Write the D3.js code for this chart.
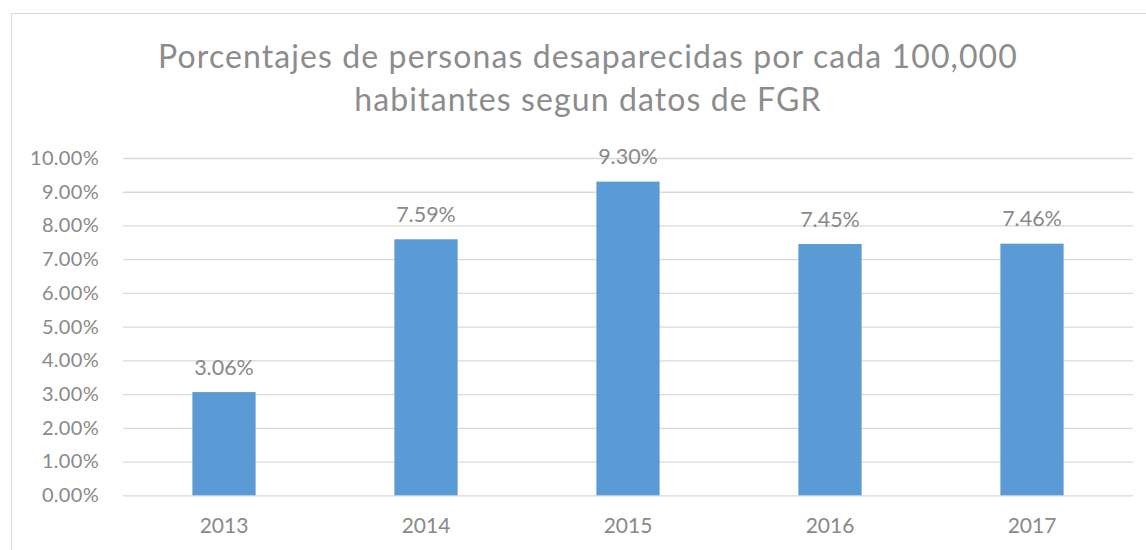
<!DOCTYPE html>
<html>
<head>
<meta charset="utf-8">
<script src="https://cdn.jsdelivr.net/npm/d3@7"></script>
<style>
html,body{margin:0;padding:0;background:#fff;}
svg{display:block;font-family:Lato,"Open Sans",sans-serif;}
</style>
</head>
<body>
<svg id="chart" width="1146" height="550"></svg>
<script>
const categories = ["2013", "2014", "2015", "2016", "2017"];
const values = [3.06, 7.59, 9.30, 7.45, 7.46];
const yTicks = [0, 1, 2, 3, 4, 5, 6, 7, 8, 9, 10];
const titleLines = ["Porcentajes de personas desaparecidas por cada 100,000", "habitantes segun datos de FGR"];

const svg = d3.select("#chart");
const textColor = "#898989";
const gridColor = "#d9d9d9";

// chart border
svg.append("rect")
  .attr("x", 11.5).attr("y", 13.5)
  .attr("width", 1146).attr("height", 560)
  .attr("fill", "none").attr("stroke", gridColor).attr("stroke-width", 1);

const plotLeft = 123, plotRight = 1133, plotTop = 158, plotBottom = 495.3;

const x = d3.scaleBand().domain(categories).range([plotLeft, plotRight]).padding(0);
const y = d3.scaleLinear().domain([0, 10]).range([plotBottom, plotTop]);

// title
svg.append("g").selectAll("text").data(titleLines).join("text")
  .attr("x", 588).attr("y", (d, i) => 68 + i * 43)
  .attr("text-anchor", "middle")
  .attr("font-size", 32)
  .attr("letter-spacing", 1.1)
  .attr("fill", "#8c8c8c")
  .text(d => d);

// y axis with gridlines
const yAxis = d3.axisLeft(y).tickValues(yTicks)
  .tickSize(-(plotRight - plotLeft)).tickPadding(24)
  .tickFormat(d => d.toFixed(2) + "%");
const gy = svg.append("g").attr("transform", `translate(${plotLeft},0)`).call(yAxis);
gy.select(".domain").remove();
gy.selectAll(".tick line").attr("stroke", gridColor).attr("stroke-width", 1.3);
gy.selectAll(".tick text").attr("fill", textColor).attr("font-size", 20)
  .attr("letter-spacing", 0.3)
  .attr("font-family", "Lato, sans-serif");

// x axis
const xAxis = d3.axisBottom(x).tickSize(0).tickPadding(23);
const gx = svg.append("g").attr("transform", `translate(0,${plotBottom})`).call(xAxis);
gx.select(".domain").remove();
gx.selectAll(".tick text").attr("fill", textColor).attr("font-size", 21)
  .attr("font-family", "Lato, sans-serif");

// bars
const bw = x.bandwidth() * 0.313;
svg.append("g").selectAll("rect").data(values).join("rect")
  .attr("x", (d, i) => x(categories[i]) + x.bandwidth() / 2 - bw / 2)
  .attr("y", d => y(d))
  .attr("width", bw)
  .attr("height", d => y(0) - y(d))
  .attr("fill", "#5b9bd5");

// data labels
svg.append("g").selectAll("text").data(values).join("text")
  .attr("x", (d, i) => x(categories[i]) + x.bandwidth() / 2)
  .attr("y", d => y(d) - 17.5)
  .attr("text-anchor", "middle")
  .attr("font-size", 21.5)
  .attr("fill", textColor)
  .text(d => d.toFixed(2) + "%");
</script>
</body>
</html>
